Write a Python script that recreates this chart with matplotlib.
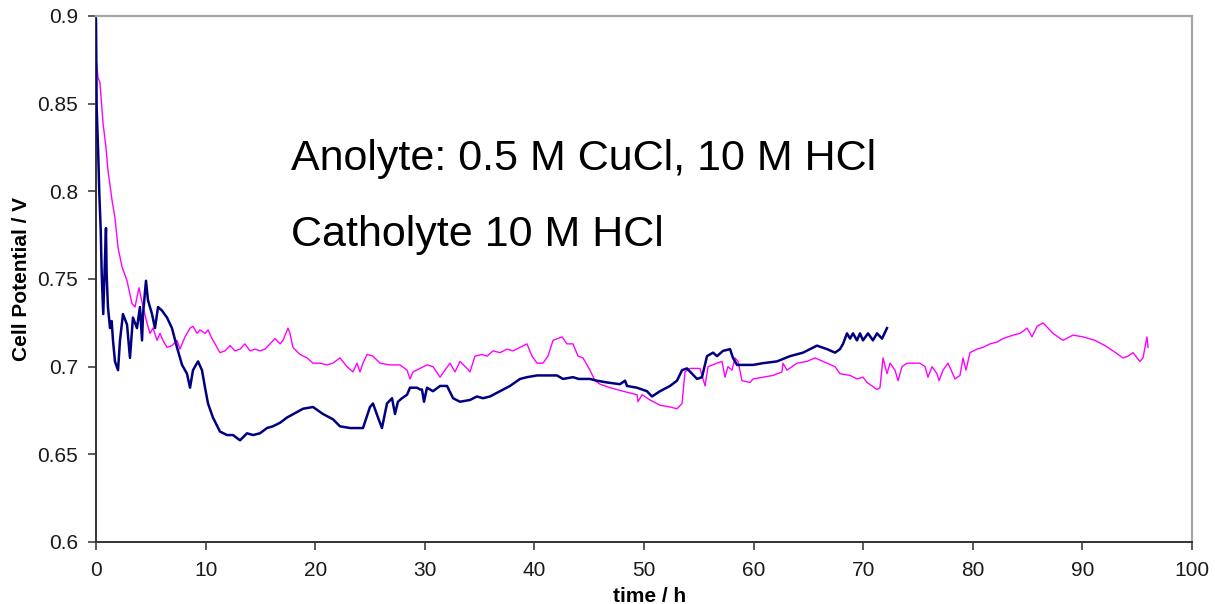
import matplotlib
matplotlib.use("Agg")
import matplotlib.pyplot as plt

plt.rcParams['font.family'] = ['Liberation Sans', 'DejaVu Sans']

# Magenta series (time h, cell potential V)
mag_t = [0.06, 0.18, 0.36, 0.64, 0.91, 1.09, 1.46, 1.73, 2.01, 2.37, 2.83, 3.28, 3.56, 3.92,
         4.29, 4.65, 4.93, 5.20, 5.57, 5.84, 6.11, 6.48, 6.93, 7.39, 7.66, 8.12, 8.58, 8.85,
         9.22, 9.49, 9.95, 10.22, 10.58, 10.86, 11.31, 11.77, 12.23, 12.68, 13.14, 13.59,
         14.05, 14.51, 14.96, 15.42, 15.88, 16.33, 16.79, 17.06, 17.52, 17.70, 17.97, 18.61,
         19.25, 19.80, 20.44, 21.08, 21.62, 22.26, 22.90, 23.45, 23.81, 24.09, 24.36, 24.73,
         25.27, 25.91, 26.82, 27.74, 28.38, 28.65, 28.92, 29.56, 30.20, 30.75, 31.39, 31.84,
         32.30, 32.76, 33.21, 33.85, 34.12, 34.58, 35.22, 35.68, 36.22, 36.86, 37.50, 38.05,
         38.69, 39.32, 39.78, 40.24, 40.78, 41.24, 41.70, 42.52, 42.97, 43.52, 43.98, 44.43,
         45.07, 45.53, 45.99, 46.90, 48.08, 49.36, 49.45, 49.82, 50.55, 51.46, 52.37, 53.01,
         53.47, 53.74, 54.20, 55.11, 55.57, 55.84, 56.66, 57.12, 57.39, 57.66, 58.03, 58.30,
         58.58, 58.94, 59.67, 59.95, 60.86, 61.77, 62.59, 62.68, 63.05, 63.96, 64.87, 65.60,
         66.70, 67.43, 67.88, 68.80, 69.43, 69.98, 70.35, 71.26, 71.53, 71.81, 72.17, 72.45,
         72.90, 73.18, 73.54, 74.00, 74.54, 75.18, 75.64, 75.91, 76.28, 76.73, 76.92, 77.28,
         77.74, 78.10, 78.38, 78.83, 79.11, 79.38, 79.74, 80.38, 80.93, 81.57, 82.21, 82.76,
         83.67, 84.31, 84.95, 85.40, 85.86, 86.41, 86.86, 87.32, 88.23, 89.14, 90.05, 91.15,
         92.06, 92.79, 93.70, 94.16, 94.62, 94.98, 95.26, 95.53, 95.89, 95.99]
mag_v = [0.873, 0.865, 0.862, 0.839, 0.825, 0.812, 0.795, 0.785, 0.768, 0.757, 0.749, 0.736, 0.734, 0.745,
         0.734, 0.725, 0.719, 0.722, 0.715, 0.719, 0.715, 0.711, 0.712, 0.715, 0.710, 0.717, 0.722, 0.723,
         0.719, 0.721, 0.719, 0.721, 0.716, 0.713, 0.708, 0.709, 0.712, 0.709, 0.710, 0.713,
         0.709, 0.710, 0.709, 0.710, 0.713, 0.716, 0.713, 0.715, 0.722, 0.719, 0.711, 0.707,
         0.705, 0.702, 0.702, 0.701, 0.702, 0.705, 0.700, 0.697, 0.702, 0.697, 0.702, 0.707,
         0.706, 0.702, 0.701, 0.701, 0.698, 0.693, 0.697, 0.699, 0.701, 0.700, 0.694, 0.698,
         0.702, 0.697, 0.703, 0.699, 0.697, 0.706, 0.707, 0.706, 0.709, 0.708, 0.710, 0.709,
         0.711, 0.713, 0.706, 0.702, 0.702, 0.706, 0.715, 0.717, 0.713, 0.713, 0.706, 0.705,
         0.698, 0.692, 0.690, 0.688, 0.686, 0.684, 0.680, 0.684, 0.681, 0.678, 0.677, 0.676,
         0.679, 0.697, 0.699, 0.699, 0.689, 0.700, 0.702, 0.703, 0.694, 0.700, 0.698, 0.705,
         0.703, 0.692, 0.691, 0.693, 0.694, 0.695, 0.697, 0.702, 0.698, 0.702, 0.703, 0.705,
         0.702, 0.700, 0.696, 0.695, 0.693, 0.694, 0.691, 0.687, 0.688, 0.705, 0.696, 0.702,
         0.698, 0.692, 0.700, 0.702, 0.702, 0.702, 0.700, 0.694, 0.700, 0.696, 0.692, 0.698,
         0.702, 0.697, 0.693, 0.695, 0.705, 0.698, 0.708, 0.710, 0.711, 0.713, 0.714, 0.716,
         0.718, 0.719, 0.722, 0.717, 0.723, 0.725, 0.722, 0.719, 0.715, 0.718, 0.717, 0.715,
         0.712, 0.709, 0.705, 0.706, 0.708, 0.705, 0.703, 0.705, 0.717, 0.711]

# Navy series (time h, cell potential V)
nav_t = [0.00, 0.06, 0.21, 0.30, 0.43, 0.52, 0.66, 0.91, 0.97, 1.09, 1.28, 1.43, 1.55, 1.73,
         2.01, 2.19, 2.46, 2.83, 3.10, 3.37, 3.74, 4.01, 4.20, 4.29, 4.56, 4.74, 5.11, 5.38,
         5.66, 6.02, 6.48, 6.93, 7.39, 7.85, 8.30, 8.58, 8.85, 9.31, 9.67, 9.95, 10.22, 10.67,
         11.31, 11.95, 12.50, 13.14, 13.78, 14.33, 14.96, 15.60, 16.15, 16.79, 17.43, 18.89,
         19.80, 20.71, 21.62, 22.26, 23.18, 24.36, 25.00, 25.27, 25.73, 26.09, 26.55, 27.01,
         27.28, 27.55, 27.92, 28.38, 28.65, 29.29, 29.56, 29.74, 29.93, 30.20, 30.75, 31.39,
         32.03, 32.58, 33.21, 34.12, 34.76, 35.31, 35.95, 36.86, 37.77, 38.69, 39.32, 40.24,
         41.15, 42.06, 42.61, 43.52, 44.04, 45.07, 45.71, 46.62, 47.81, 48.27, 48.45, 49.36,
         50.27, 50.73, 51.46, 52.37, 53.01, 53.47, 53.92, 54.38, 54.84, 55.29, 55.75, 56.30,
         56.66, 57.21, 57.85, 58.12, 58.49, 59.95, 60.86, 62.13, 63.32, 64.51, 65.78, 66.70,
         67.43, 67.88, 68.16, 68.52, 68.80, 69.07, 69.43, 69.71, 69.98, 70.44, 70.89, 71.26,
         71.72, 72.17]
nav_v = [0.898, 0.848, 0.820, 0.799, 0.778, 0.753, 0.730, 0.779, 0.753, 0.734, 0.722, 0.726, 0.715, 0.703,
         0.698, 0.715, 0.730, 0.724, 0.705, 0.728, 0.722, 0.734, 0.715, 0.730, 0.749, 0.738, 0.730, 0.722,
         0.734, 0.732, 0.728, 0.722, 0.711, 0.701, 0.696, 0.688, 0.698, 0.703, 0.698, 0.688, 0.679, 0.671,
         0.663, 0.661, 0.661, 0.658, 0.662, 0.661, 0.662, 0.665, 0.666, 0.668, 0.671, 0.676,
         0.677, 0.673, 0.670, 0.666, 0.665, 0.665, 0.677, 0.679, 0.671, 0.665, 0.679, 0.682,
         0.673, 0.680, 0.682, 0.684, 0.688, 0.688, 0.687, 0.687, 0.680, 0.688, 0.686, 0.689,
         0.689, 0.682, 0.680, 0.681, 0.683, 0.682, 0.683, 0.686, 0.689, 0.693, 0.694, 0.695,
         0.695, 0.695, 0.693, 0.694, 0.693, 0.693, 0.692, 0.691, 0.690, 0.692, 0.689, 0.688,
         0.686, 0.683, 0.686, 0.689, 0.692, 0.698, 0.699, 0.696, 0.693, 0.694, 0.706, 0.708,
         0.706, 0.709, 0.710, 0.705, 0.701, 0.701, 0.702, 0.703, 0.706, 0.708, 0.712, 0.710,
         0.708, 0.710, 0.713, 0.719, 0.716, 0.719, 0.715, 0.719, 0.715, 0.719, 0.715, 0.719,
         0.716, 0.722]

x_ticks = [0, 10, 20, 30, 40, 50, 60, 70, 80, 90, 100]
y_ticks = [0.6, 0.65, 0.7, 0.75, 0.8, 0.85, 0.9]
y_tick_labels = ['0.6', '0.65', '0.7', '0.75', '0.8', '0.85', '0.9']
annotations = ["Anolyte: 0.5 M CuCl, 10 M HCl", "Catholyte 10 M HCl"]

W, H = 1215, 604
fig = plt.figure(figsize=(W / 100, H / 100), dpi=100)
ax = fig.add_axes([96 / W, 1 - 542 / H, (1192 - 96) / W, (542 - 16) / H])

ax.plot(mag_t, mag_v, color='#ff00ff', lw=1.0, zorder=2)
ax.plot(nav_t, nav_v, color='#000080', lw=1.8, zorder=3)

ax.set_xlim(0, 100)
ax.set_ylim(0.6, 0.9)
ax.set_xticks(x_ticks)
ax.set_xticklabels([str(v) for v in x_ticks])
ax.set_yticks(y_ticks)
ax.set_yticklabels(y_tick_labels)
ax.tick_params(axis='both', direction='out', length=6, width=1.2, color='#404040',
               labelsize=15, labelcolor='#1a1a1a')
ax.tick_params(axis='y', pad=7)
ax.tick_params(axis='x', pad=8)

for side in ('left', 'bottom'):
    ax.spines[side].set_color('#333333')
    ax.spines[side].set_linewidth(1.4)
for side in ('top', 'right'):
    ax.spines[side].set_color('#a6a6a6')
    ax.spines[side].set_linewidth(1.6)

lab_font = dict(fontsize=15, fontweight='bold')
ax.set_xlabel('time / h', **lab_font)
ax.xaxis.set_label_coords((650 - 96) / (1192 - 96), -0.085)
ax.set_ylabel('Cell Potential / V', **lab_font)
ax.yaxis.set_label_coords((31 - 96) / (1192 - 96), 0.5)

ax.text(17.8, 0.812, annotations[0], fontsize=31, va='baseline', ha='left', color='black')
ax.text(17.8, 0.769, annotations[1], fontsize=31, va='baseline', ha='left', color='black')

fig.savefig('out.png', dpi=100)
